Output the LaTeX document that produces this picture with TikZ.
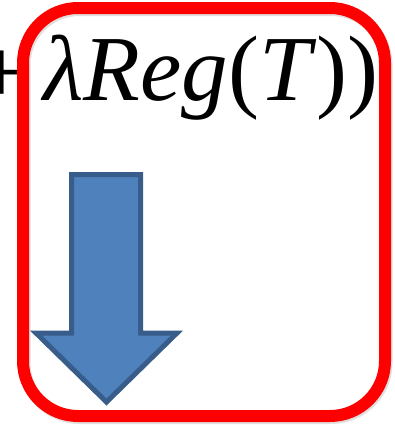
\documentclass[tikz,border=0pt]{standalone}
\usepackage{fontspec}
\setmainfont{Liberation Serif}
\definecolor{arrowfill}{HTML}{4F81BD}
\definecolor{arrowline}{HTML}{385D8A}
\definecolor{boxred}{HTML}{FF0000}
\tikzset{
  formula/.style={inner sep=0pt, font=\fontsize{93}{93}\selectfont},
  redbox/.style={draw=boxred, line width=12pt, rounded corners=55pt},
  boxshadow/.style={draw=black, opacity=0.12, line width=12pt, rounded corners=55pt},
  bigarrow/.style={fill=arrowfill, draw=arrowline, line width=5pt, miter limit=10}
}
\begin{document}
\begin{tikzpicture}[x=1pt,y=1pt]
\useasboundingbox (0,0) rectangle (395,-426);
\node[formula, anchor=base] (plus) at (2,-103) {+};
\node[formula, anchor=base west] (eq) at (43,-100) {\textit{λReg}(\textit{T}))};
\draw[boxshadow] (24.5,-10) rectangle (386.5,-418);
\draw[redbox] (23,-8) rectangle (385,-416);
\draw[bigarrow] (71.5,-174.5) -- (140.5,-174.5) -- (140.5,-333) -- (177,-333)
  -- (106.5,-402) -- (36,-333) -- (71.5,-333) -- cycle;
\end{tikzpicture}
\end{document}
